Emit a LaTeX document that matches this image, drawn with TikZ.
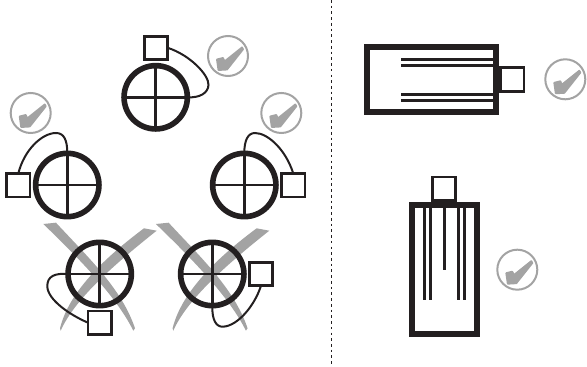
\documentclass[tikz,border=0pt]{standalone}
\usepackage{amsmath}
\usepackage{amssymb}
\definecolor{ink}{HTML}{231F20}
\definecolor{okgrey}{HTML}{A3A3A3}
\tikzset{
  ring/.style={circle,draw=ink,line width=4.2pt,minimum size=47.5pt,inner sep=0pt,outer sep=0pt},
  hair/.style={draw=ink,line width=2.1pt},
  plug/.style={rectangle,draw=ink,fill=white,line width=2.1pt,minimum size=17.5pt,inner sep=0pt,outer sep=0pt},
  wire/.style={draw=ink,line width=1.5pt},
  barrel/.style={rectangle,draw=ink,line width=4.3pt,inner sep=0pt,outer sep=0pt},
  okring/.style={circle,draw=okgrey,line width=1.5pt,minimum size=30pt,inner sep=0pt,outer sep=0pt},
  okmark/.pic={\filldraw[okgrey,line width=1.4pt,line join=round] (-11,3.5)--(-5,2)--(-3.5,5.5)--(14,-8.5)--(15,-6.7)--(-1,13.5)--(-9.5,14)--cycle;},
  badmark/.pic={
    \fill[okgrey] (-56.4,-50)--(-43.7,-51.3) .. controls (-10,-15) and (22,15) .. (35.3,54.3)--(33.6,56.7) .. controls (18,25) and (-15,-10) .. cycle;
    \fill[okgrey] (57,-43.3)--(44.3,-45.7) .. controls (10,-20) and (-30,15) .. (-39.7,54.3)--(-39,56.7) .. controls (-25,25) and (15,-10) .. cycle;}
}
\begin{document}
\begin{tikzpicture}[x=0.75pt,y=-0.75pt]
  \useasboundingbox (0,0) rectangle (587,367);
  \coordinate (DT) at (331.7,0); \coordinate (DB) at (331.7,367);
  \draw[ink,line width=0.9pt,dash pattern=on 2pt off 2.3pt] (DT)--(DB);
  % rejected pair
  \pic at (99.7,274) {badmark}; \pic at (212.3,274) {badmark};
  \foreach \nm/\px/\py in {RA/155.7/97.3,RB/67.3/185,RC/244.3/185,RD/99.7/274,RE/212.3/274} {
    \node[ring] (\nm) at (\px,\py) {};
    \draw[hair] (\nm.north)--(\nm.south); \draw[hair] (\nm.west)--(\nm.east);
  }
  \node[plug] (PA) at (156,47.8) {}; \node[plug] (PB) at (18.3,185.3) {}; \node[plug] (PC) at (293.3,185.3) {};
  \node[plug] (PD) at (99.7,322.7) {}; \node[plug] (PE) at (261,274) {};
  \draw[wire] (PA.east) .. controls (190,55) and (209,75) .. (208.5,85) .. controls (208,93) and (200,98) .. (RA.east);
  \draw[wire] (PB.north) .. controls (24,150) and (42,133) .. (56,133) .. controls (64,133) and (67.3,140) .. (RB.north);
  \draw[wire] (PC.north) .. controls (286,150) and (268,133) .. (255,133) .. controls (248,133) and (244.3,140) .. (RC.north);
  \draw[wire] (RD.west) .. controls (55,273) and (47,276) .. (47.3,286.7) .. controls (48,300) and (70,315) .. (PD.west);
  \draw[wire] (RE.south) .. controls (212,320) and (216,327) .. (223,326.7) .. controls (238,326) and (255,305) .. (PE.south);
  % barrels
  \node[barrel,minimum width=96.75pt,minimum height=48.75pt] (BA) at (431.2,79.5) {};
  \node[plug] (PF) at (512.3,79.5) {}; \draw[hair] (BA.east)--(PF.west);
  \foreach \py in {59.3,65.3,94.3,100.3} {
    \coordinate (LS) at (401,\py);
    \draw[hair] (LS)--(LS -| BA.east);
  }
  \node[barrel,minimum width=48.5pt,minimum height=96.75pt] (BB) at (444.3,269.5) {};
  \node[plug] (PG) at (444,188.7) {}; \draw[hair] (BB.north)--(PG.south);
  \foreach \px/\py in {424.3/300,430.7/300,444.3/270,458.3/300,464.7/300} {
    \coordinate (LE) at (\px,\py);
    \draw[hair] (LE)--(LE |- BB.north);
  }
  % ok signs
  \foreach \nm/\px/\py in {OA/228/56,OB/30.7/113,OC/281.3/113,OD/565.3/79.3,OE/517.3/269.7} {
    \node[okring] (\nm) at (\px,\py) {};
    \pic at (\nm) {okmark};
  }
\end{tikzpicture}
\end{document}
